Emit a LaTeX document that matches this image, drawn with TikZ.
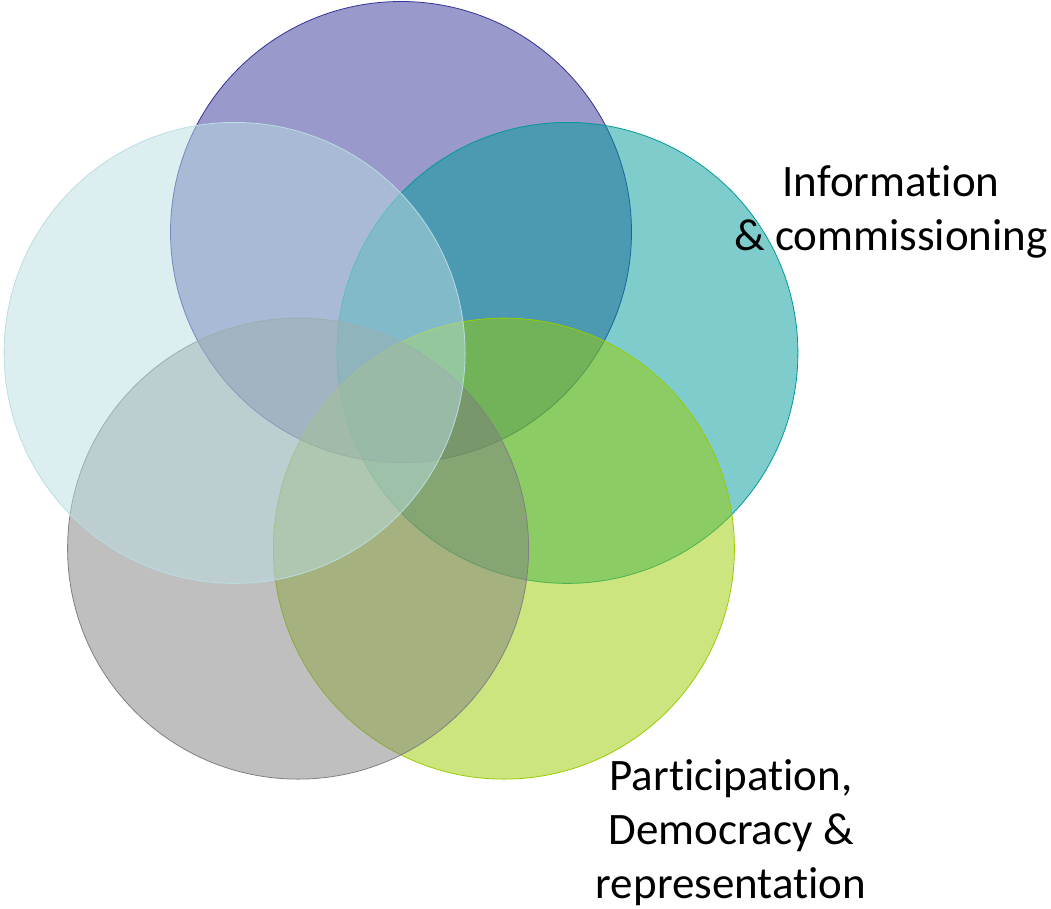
\documentclass[tikz,border=0pt]{standalone}
\usepackage{fontspec}
\setmainfont[Ligatures={NoCommon}]{Carlito}
\definecolor{vennpurple}{HTML}{333399}
\definecolor{vennteal}{HTML}{009999}
\definecolor{venngreen}{HTML}{99CC00}
\definecolor{venngray}{HTML}{808080}
\definecolor{vennblue}{HTML}{B9DDE1}
\begin{document}
\begin{tikzpicture}[x=1pt, y=-1pt, line join=round,
    venn/.style={circle, minimum size=461pt, inner sep=0pt, fill opacity=0.5, line width=0.8pt},
    blurb/.style={font=\fontsize{45}{54}\selectfont, align=center, inner sep=0pt}]
  \useasboundingbox (0,0) rectangle (1051,908);
  % five circles, clockwise from the top
  \node[venn, draw=vennpurple, fill=vennpurple] (top) at (401,232) {};
  \node[venn, draw=vennteal, fill=vennteal] (right) at (567.4,352.9) {};
  \node[venn, draw=venngreen, fill=venngreen] (lowright) at (503.9,548.6) {};
  \node[venn, draw=venngray, fill=venngray] (lowleft) at (298.1,548.6) {};
  \node[venn, draw=vennblue, fill=vennblue] (left) at (234.6,352.9) {};
  % captions
  \node[blurb, anchor=base] (info) at (891,250) {Information\\\& commissioning};
  \node[blurb, anchor=base] (part) at (731,898) {Participation,\\Democracy \&\\representation};
\end{tikzpicture}
\end{document}
